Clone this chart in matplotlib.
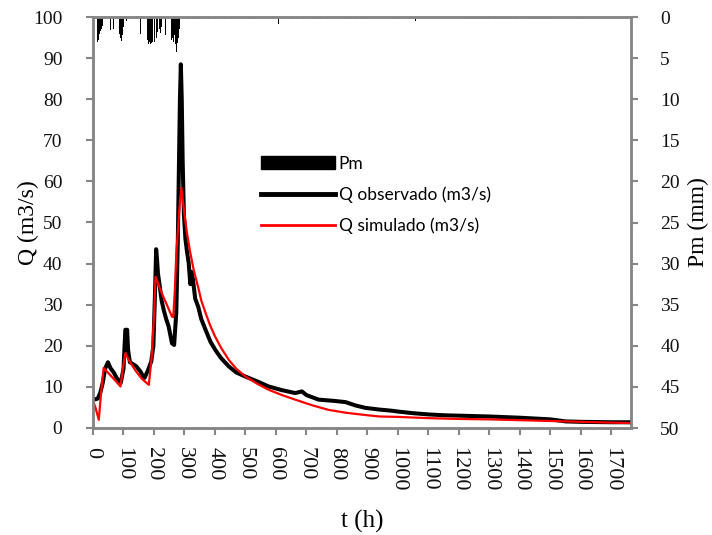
import matplotlib
matplotlib.use("Agg")
import matplotlib.pyplot as plt
from matplotlib.patches import Patch
from matplotlib.lines import Line2D

# ---- data ----
t_obs = [0, 10, 16, 24, 32, 40, 49, 57, 68, 79, 91, 100, 106, 112, 115, 121, 132, 142,
         155, 164, 169, 180, 191, 198, 203, 207, 210, 213, 218, 225, 232, 240, 248, 259,
         266, 273, 278, 282, 285, 288, 291, 294, 298, 303, 308, 314, 319, 323, 328, 335,
         345, 355, 369, 385, 401, 420, 445, 470, 500, 540, 576, 620, 663, 685, 700, 740,
         790, 828, 860, 893, 937, 980, 1000, 1050, 1100, 1150, 1200, 1300, 1400, 1450,
         1500, 1550, 1600, 1700, 1764]
q_obs = [7.0, 7.0, 7.2, 8.6, 11.0, 14.5, 16.0, 14.6, 13.5, 12.0, 11.0, 14.4, 23.9, 23.9, 19.0,
         16.0, 15.5, 15.0, 13.8, 12.6, 12.2, 14.0, 16.2, 20.0, 32.0, 43.5, 41.0, 37.6, 35.0,
         31.0, 28.7, 26.5, 24.7, 20.6, 20.2, 28.0, 45.0, 65.0, 80.0, 88.5, 80.0, 65.0, 52.0,
         46.0, 43.0, 40.0, 35.0, 38.0, 36.0, 31.5, 29.5, 26.5, 23.9, 21.0, 19.0, 17.0, 15.0,
         13.5, 12.5, 11.3, 10.1, 9.2, 8.5, 8.9, 8.0, 6.9, 6.6, 6.3, 5.5, 4.9, 4.5, 4.2, 4.0,
         3.6, 3.3, 3.1, 3.0, 2.8, 2.5, 2.3, 2.1, 1.6, 1.5, 1.4, 1.4]

t_sim = [0, 8, 19, 27, 35, 50, 70, 90, 98, 106, 120, 140, 160, 183, 192, 200, 205, 215,
         230, 245, 259, 263, 268, 273, 280, 286, 290, 295, 300, 307, 318, 330, 347, 355,
         370, 385, 400, 420, 445, 470, 500, 540, 576, 620, 663, 720, 773, 830, 900, 940,
         1000, 1100, 1200, 1300, 1400, 1500, 1600, 1700, 1764]
q_sim = [6.5, 5.0, 2.0, 9.0, 14.6, 13.4, 11.8, 10.1, 14.5, 18.2, 16.2, 13.9, 12.0, 10.5, 17.0,
         27.0, 36.8, 34.8, 32.0, 29.5, 27.1, 27.0, 33.0, 42.0, 50.0, 56.0, 58.4, 55.0, 52.0,
         48.0, 43.0, 38.5, 33.6, 31.0, 27.8, 24.8, 22.3, 19.5, 16.6, 14.4, 12.5, 10.7, 9.3,
         8.0, 6.9, 5.5, 4.4, 3.7, 3.1, 2.8, 2.7, 2.4, 2.2, 2.1, 1.9, 1.7, 1.5, 1.3, 1.2]

rain_t = [13, 15, 17, 19, 21, 24, 27, 30, 58, 66, 87, 90, 93, 96, 101, 111, 156,
          180, 183, 186, 189, 192, 196, 200, 203, 207, 210, 213, 217, 222, 226, 238,
          258, 261, 264, 267, 270, 274, 277, 280, 284, 311,
          345, 380, 455, 530, 607, 650, 690, 735, 770, 800, 830, 860, 892, 990,
          1056, 1200, 1225, 1250, 1275, 1300, 1320, 1340, 1365, 1390, 1445, 1470, 1498, 1603]
rain_mm = [2.6, 3.1, 2.8, 2.3, 2.1, 1.7, 1.5, 1.1, 1.6, 1.4, 2.1, 2.6, 2.9, 2.2, 1.2, 0.5, 2.1,
           2.8, 3.3, 3.1, 3.3, 3.2, 3.0, 2.2, 3.0, 2.6, 1.8, 2.4, 1.5, 1.9, 1.2, 2.2,
           2.8, 2.5, 3.0, 2.2, 3.3, 4.3, 3.2, 2.6, 1.5, 0.3,
           0.3, 0.3, 0.3, 0.3, 0.9, 0.3, 0.3, 0.3, 0.3, 0.3, 0.3, 0.3, 0.3, 0.3,
           0.5, 0.3, 0.3, 0.3, 0.3, 0.3, 0.3, 0.3, 0.3, 0.3, 0.3, 0.3, 0.3, 0.3]

x_ticks = list(range(0, 1800, 100))
q_ticks = list(range(0, 101, 10))
p_ticks = list(range(0, 51, 5))

label_pm = "Pm"
label_obs = "Q observado (m3/s)"
label_sim = "Q simulado (m3/s)"

# ---- figure ----
grey = "#868686"
serif = "Liberation Serif"
fig = plt.figure(figsize=(7.12, 5.35), dpi=100)
ax = fig.add_axes([93 / 712, 1 - 428 / 535, (631 - 93) / 712, (428 - 17) / 535])
ax2 = ax.twinx()
ax.set_zorder(ax2.get_zorder() + 1)
ax.patch.set_visible(False)

ax2.bar(rain_t, rain_mm, width=3, color="black", align="center")
ax2.set_ylim(50, 0)
ax2.set_yticks(p_ticks)

ax.plot(t_obs, q_obs, color="black", lw=2.9, solid_joinstyle="round")
ax.plot(t_sim, q_sim, color="red", lw=1.6)
ax.set_xlim(0, 1764)
ax.set_ylim(0, 100)
ax.set_xticks(x_ticks)
ax.set_yticks(q_ticks)
ax.set_xticklabels([str(v) for v in x_ticks], rotation=-90, fontfamily=serif, fontsize=16)
ax.set_yticklabels([str(v) for v in q_ticks], fontfamily=serif, fontsize=14)
ax2.set_yticklabels([str(v) for v in p_ticks], fontfamily=serif, fontsize=14)

for a in (ax, ax2):
    for s in a.spines.values():
        s.set_color(grey)
        s.set_linewidth(1.8)
    a.tick_params(color=grey, width=1.5, length=5, labelcolor="#111111")
ax.tick_params(axis="x", pad=9)
ax.tick_params(axis="y", pad=17)
ax2.tick_params(axis="y", pad=16)

ax.set_xlabel("t (h)", fontfamily=serif, fontsize=18, labelpad=13)
ax.set_ylabel("Q (m3/s)", fontfamily=serif, fontsize=17, labelpad=-4)
ax2.set_ylabel("Pm (mm)", fontfamily=serif, fontsize=17, labelpad=6)

handles = [Patch(facecolor="black", edgecolor="black"),
           Line2D([], [], color="black", lw=3.5),
           Line2D([], [], color="red", lw=2)]
fig.legend(handles, [label_pm, label_obs, label_sim], loc="upper left",
           bbox_to_anchor=(252 / 712, 1 - 147 / 535), frameon=False,
           prop={"family": "Lato", "size": 12.5}, handlelength=4.3, handleheight=0.8,
           handletextpad=0.2, labelspacing=0.85, borderpad=0)

fig.savefig("out.png", dpi=100)
